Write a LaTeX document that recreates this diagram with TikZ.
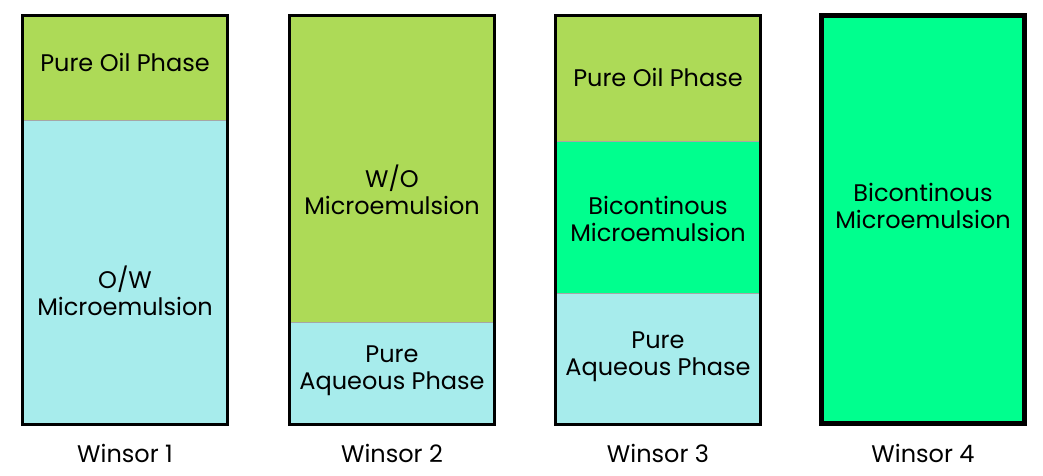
\documentclass[tikz,border=0pt]{standalone}
\usepackage{fontspec}
\setmainfont{Poppins}
\definecolor{oilgreen}{HTML}{ADDA57}
\definecolor{aqua}{HTML}{A7ECEC}
\definecolor{bicont}{HTML}{00FF8E}
\begin{document}
\begin{tikzpicture}[x=1pt,y=-1pt,
  lbl/.style={font=\fontsize{24}{27}\selectfont, align=center, text=black},
  frame/.style={draw=black, line width=3pt},
  thickframe/.style={draw=black, line width=5pt},
  divider/.style={draw=black!35, line width=0.6pt}]
\useasboundingbox (0,0) rectangle (1043,475);

% Winsor 1
\fill[oilgreen] (22.5,15.5) rectangle (227.5,120);
\fill[aqua] (22.5,120) rectangle (227.5,424.5);
\draw[divider] (22.5,120) -- (227.5,120);
\draw[frame] (22.5,15.5) rectangle (227.5,424.5);
\node[lbl] (w1oil) at (125,62) {Pure Oil Phase};
\node[lbl] (w1ow) at (125,291) {O/W\\Microemulsion};
\node[lbl] (w1) at (125,453) {Winsor 1};

% Winsor 2
\fill[oilgreen] (289.5,15.5) rectangle (494.5,322);
\fill[aqua] (289.5,322) rectangle (494.5,424.5);
\draw[divider] (289.5,322) -- (494.5,322);
\draw[frame] (289.5,15.5) rectangle (494.5,424.5);
\node[lbl] (w2wo) at (392,190) {W/O\\Microemulsion};
\node[lbl] (w2aq) at (392,371) {Pure\\Aqueous Phase};
\node[lbl] (w2) at (392,453) {Winsor 2};

% Winsor 3
\fill[oilgreen] (555.5,15.5) rectangle (760.5,141);
\fill[bicont] (555.5,141) rectangle (760.5,293);
\fill[aqua] (555.5,293) rectangle (760.5,424.5);
\draw[divider] (555.5,141) -- (760.5,141);
\draw[divider] (555.5,293) -- (760.5,293);
\draw[frame] (555.5,15.5) rectangle (760.5,424.5);
\node[lbl] (w3oil) at (658,77) {Pure Oil Phase};
\node[lbl] (w3bi) at (658,219) {Bicontinous\\Microemulsion};
\node[lbl] (w3aq) at (658,357) {Pure\\Aqueous Phase};
\node[lbl] (w3) at (658,453) {Winsor 3};

% Winsor 4
\fill[bicont] (821.5,15.5) rectangle (1024.5,423.5);
\draw[thickframe] (821.5,15.5) rectangle (1024.5,423.5);
\node[lbl] (w4bi) at (923,206) {Bicontinous\\Microemulsion};
\node[lbl] (w4) at (923,453) {Winsor 4};
\end{tikzpicture}
\end{document}
